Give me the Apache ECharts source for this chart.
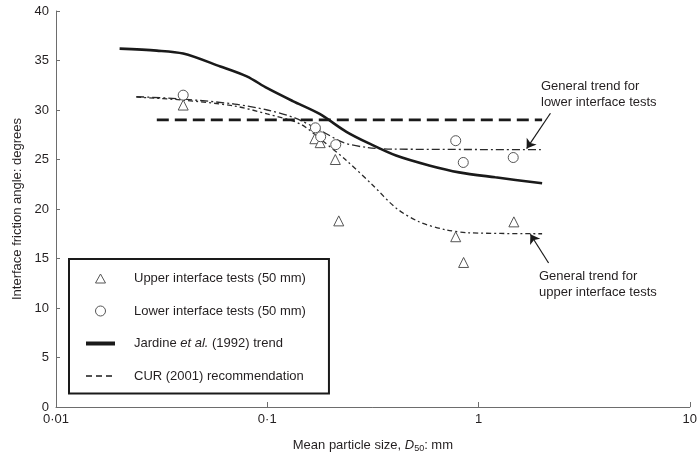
<!DOCTYPE html>
<html>
<head>
<meta charset="utf-8">
<script src="https://cdn.jsdelivr.net/npm/echarts@6/dist/echarts.min.js"></script>
<style>
  html, body { margin: 0; padding: 0; background: #fff; }
  #chart { width: 700px; height: 458px; }
</style>
</head>
<body>
<div id="chart"></div>
<script>
// Mean particle size D50 (mm) and interface friction angle (degrees)
const upperTestsX = [0.04, 0.168, 0.178, 0.21, 0.218, 0.78, 0.85, 1.47];
const upperTestsY = [30.5, 27.1, 26.7, 25.0, 18.8, 17.2, 14.6, 18.7];

const lowerTestsX = [0.04, 0.169, 0.179, 0.211, 0.78, 0.847, 1.46];
const lowerTestsY = [31.5, 28.2, 27.3, 26.5, 26.9, 24.7, 25.2];

const jardineX = [0.02, 0.03, 0.04, 0.06, 0.08, 0.1, 0.132, 0.177, 0.237, 0.305, 0.407, 0.584, 0.809, 1.2, 2.0];
const jardineY = [36.2, 36.0, 35.7, 34.4, 33.4, 32.2, 30.9, 29.6, 27.8, 26.6, 25.4, 24.4, 23.7, 23.2, 22.6];

const curX = [0.03, 2.0];
const curY = [29, 29];

const lowerTrendX = [0.024, 0.04, 0.07, 0.1, 0.135, 0.18, 0.23, 0.3, 0.4, 2.0];
const lowerTrendY = [31.35, 31.1, 30.6, 30.0, 29.2, 27.9, 26.7, 26.2, 26.05, 26.0];

const upperTrendX = [0.024, 0.04, 0.07, 0.1, 0.143, 0.18, 0.237, 0.316, 0.407, 0.524, 0.70, 0.9, 2.0];
const upperTrendY = [31.3, 31.0, 30.4, 29.6, 28.6, 27.0, 24.9, 22.4, 20.1, 18.7, 17.9, 17.6, 17.5];

const xTicks = { 0.01: '0·01', 0.1: '0·1', 1: '1', 10: '10' };

const pairs = (xs, ys) => xs.map((x, i) => [x, ys[i]]);

const FONT = 'Liberation Sans, Arial, sans-serif';
const INK = '#231f20';
const MARKER = { color: '#ffffff', borderColor: '#555555', borderWidth: 1, opacity: 1 };

// Legend triangle drawn inside a 29x10 box so it keeps its proportions
const LEGEND_TRIANGLE = 'path://M0,0 M29,10 M9.5,9.5 L14.5,0.5 L19.5,9.5 Z';

const chart = echarts.init(document.getElementById('chart'), null, { renderer: 'canvas' });

chart.setOption({
  animation: false,
  backgroundColor: '#ffffff',
  textStyle: { fontFamily: FONT, color: INK },
  grid: { left: 56, right: 8, top: 11, bottom: 48, containLabel: false },
  xAxis: {
    type: 'log',
    logBase: 10,
    min: 0.01,
    max: 10,
    name: '{n|Mean particle size, }{i|D}{s|50}{n|: mm}',
    nameLocation: 'middle',
    nameGap: 30,
    nameTextStyle: {
      rich: {
        n: { fontFamily: FONT, fontSize: 13, color: INK },
        i: { fontFamily: FONT, fontSize: 13, color: INK, fontStyle: 'italic' },
        s: { fontFamily: FONT, fontSize: 9, color: INK, padding: [7, 0, 0, 0] }
      }
    },
    axisLine: { lineStyle: { color: '#6d6d6d', width: 1 } },
    axisTick: { inside: true, length: 5, lineStyle: { color: '#6d6d6d' } },
    minorTick: { show: false },
    splitLine: { show: false },
    axisLabel: {
      margin: 6,
      fontFamily: FONT,
      fontSize: 13,
      color: INK,
      formatter: v => xTicks[+v.toPrecision(6)] ?? ''
    }
  },
  yAxis: {
    type: 'value',
    min: 0,
    max: 40,
    interval: 5,
    name: 'Interface friction angle: degrees',
    nameLocation: 'middle',
    nameGap: 32,
    nameTextStyle: { fontFamily: FONT, fontSize: 13, color: INK },
    axisLine: { show: true, lineStyle: { color: '#6d6d6d', width: 1 } },
    axisTick: { show: true, inside: true, length: 4, lineStyle: { color: '#6d6d6d' } },
    splitLine: { show: false },
    axisLabel: { margin: 7, fontFamily: FONT, fontSize: 13, color: INK }
  },
  legend: {
    orient: 'vertical',
    left: 69,
    top: 259,
    padding: [13, 23, 11, 15],
    borderColor: '#1a1a1a',
    borderWidth: 2,
    itemWidth: 29,
    itemHeight: 10,
    itemGap: 19.5,
    symbolKeepAspect: true,
    textStyle: {
      fontFamily: FONT,
      fontSize: 13,
      color: INK,
      padding: [0, 0, 0, 14],
      rich: {
        n: { fontFamily: FONT, fontSize: 13, color: INK },
        i: { fontFamily: FONT, fontSize: 13, color: INK, fontStyle: 'italic' }
      }
    },
    formatter: name => name === 'Jardine et al. (1992) trend'
      ? '{n|Jardine }{i|et al.}{n| (1992) trend}'
      : name,
    data: [
      { name: 'Upper interface tests (50 mm)', icon: LEGEND_TRIANGLE, itemStyle: MARKER },
      { name: 'Lower interface tests (50 mm)', itemStyle: MARKER },
      { name: 'Jardine et al. (1992) trend', lineStyle: { width: 4, color: '#1a1a1a' } },
      { name: 'CUR (2001) recommendation', lineStyle: { width: 1.5, type: [6, 4], color: '#1a1a1a' } }
    ]
  },
  graphic: [
    {
      type: 'text', left: 541, top: 78,
      style: { text: 'General trend for\nlower interface tests', font: '13px ' + FONT, fill: INK, lineHeight: 16 }
    },
    {
      type: 'text', left: 539, top: 268,
      style: { text: 'General trend for\nupper interface tests', font: '13px ' + FONT, fill: INK, lineHeight: 16 }
    }
  ],
  series: [
    {
      name: 'Jardine et al. (1992) trend',
      type: 'line',
      data: pairs(jardineX, jardineY),
      smooth: 0.3,
      symbol: 'none',
      itemStyle: { opacity: 0 },
      lineStyle: { color: '#1a1a1a', width: 2.6 },
      z: 3
    },
    {
      name: 'CUR (2001) recommendation',
      type: 'line',
      data: pairs(curX, curY),
      symbol: 'none',
      itemStyle: { opacity: 0 },
      lineStyle: { color: '#1a1a1a', width: 2.6, type: [12, 6] },
      z: 3
    },
    {
      name: 'Lower trend',
      type: 'line',
      data: pairs(lowerTrendX, lowerTrendY),
      smooth: 0.3,
      symbol: 'none',
      lineStyle: { color: '#2a2a2a', width: 1.3, type: [8, 3, 2, 3] },
      markLine: {
        silent: true,
        symbol: ['none', 'arrow'],
        symbolSize: 9,
        label: { show: false },
        lineStyle: { color: '#1a1a1a', width: 1.2, type: 'solid' },
        data: [[{ coord: [2.19, 29.67] }, { coord: [1.69, 26.1] }]]
      },
      z: 2
    },
    {
      name: 'Upper trend',
      type: 'line',
      data: pairs(upperTrendX, upperTrendY),
      smooth: 0.3,
      symbol: 'none',
      lineStyle: { color: '#2a2a2a', width: 1.3, type: [5, 3, 2, 3] },
      markLine: {
        silent: true,
        symbol: ['none', 'arrow'],
        symbolSize: 9,
        label: { show: false },
        lineStyle: { color: '#1a1a1a', width: 1.2, type: 'solid' },
        data: [[{ coord: [2.146, 14.54] }, { coord: [1.76, 17.45] }]]
      },
      z: 2
    },
    {
      name: 'Upper interface tests (50 mm)',
      type: 'scatter',
      data: pairs(upperTestsX, upperTestsY),
      symbol: 'triangle',
      symbolSize: 10,
      itemStyle: MARKER,
      z: 4
    },
    {
      name: 'Lower interface tests (50 mm)',
      type: 'scatter',
      data: pairs(lowerTestsX, lowerTestsY),
      symbol: 'circle',
      symbolSize: 10,
      itemStyle: MARKER,
      z: 4
    }
  ]
});
</script>
</body>
</html>
